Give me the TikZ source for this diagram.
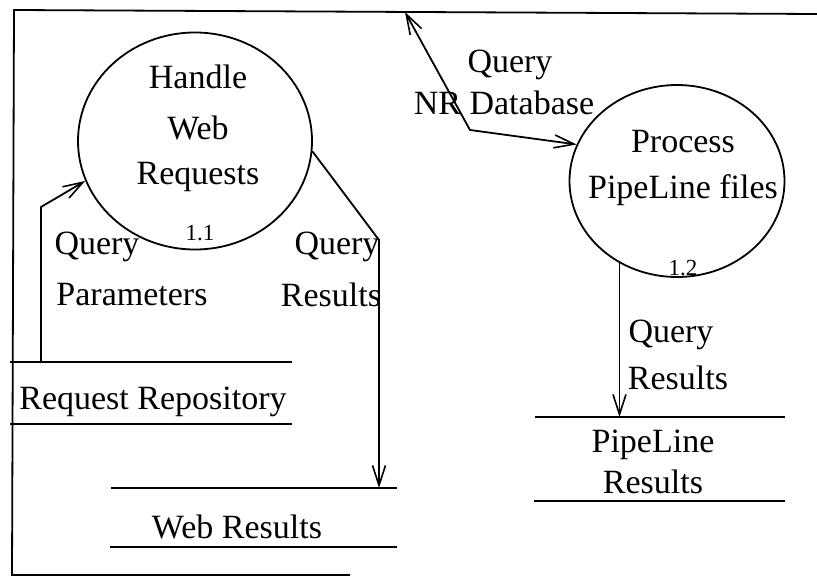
\documentclass[tikz,border=0pt]{standalone}
\usepackage{fontspec}
\setmainfont{Liberation Serif}
\usetikzlibrary{shapes.geometric,arrows.meta}

\begin{document}
\begin{tikzpicture}[x=1pt,y=-1pt,line width=1.8pt,
    txt/.style={font=\fontsize{34}{40}\selectfont,inner sep=0pt},
    num/.style={font=\fontsize{23}{26}\selectfont,inner sep=0pt},
    proc/.style={draw,ellipse,inner sep=0pt},
    barb/.tip={Straight Barb[length=20pt,width=13pt,line width=1.6pt]},
    flow/.style={-barb}]
    \useasboundingbox (0,0) rectangle (817,586);
    % outer boundary
    \coordinate (tr) at (817,14);
    \coordinate (tl) at (14,10);
    \coordinate (bl) at (12,575);
    \coordinate (br) at (350,575);
    \draw (tr) -- (tl) -- (bl) -- (br);
    % processes
    \node[proc,minimum width=234pt,minimum height=217pt] (c11) at (195,141) {};
    \node[txt] (handle) at (198,77) {Handle};
    \node[txt] (web) at (198,128) {Web};
    \node[txt] (requests) at (198,177) {Requests};
    \node[num] (n11) at (200,233) {1.1};
    \node[proc,minimum width=215pt,minimum height=192pt] (c12) at (677,181) {};
    \node[txt] (process) at (683,142) {Process};
    \node[txt] (pipefiles) at (683,190) {PipeLine files};
    \node[num] (n12) at (683,268) {1.2};
    % data stores
    \coordinate (rrtl) at (10,362); \coordinate (rrtr) at (292,362);
    \coordinate (rrbl) at (10,424); \coordinate (rrbr) at (292,424);
    \draw (rrtl) -- (rrtr);
    \draw (rrbl) -- (rrbr);
    \node[txt] (reqrep) at (153,402) {Request Repository};
    \coordinate (wrtl) at (111,488); \coordinate (wrtr) at (397,488);
    \coordinate (wrbl) at (110,547); \coordinate (wrbr) at (397,547);
    \draw (wrtl) -- (wrtr);
    \draw (wrbl) -- (wrbr);
    \node[txt] (webres) at (237,527) {Web Results};
    \coordinate (prtl) at (535,417); \coordinate (prtr) at (785,417);
    \coordinate (prbl) at (534,501); \coordinate (prbr) at (785,501);
    \draw (prtl) -- (prtr);
    \draw (prbl) -- (prbr);
    \node[txt] (pipeline) at (653,445) {PipeLine};
    \node[txt] (piperes) at (653,482) {Results};
    % flows
    \coordinate (qpfoot) at (41,362);
    \coordinate (qpbend) at (41,207);
    \draw[flow] (qpfoot) -- (qpbend) -- (c11.200);
    \node[txt] (qp1) at (97,247) {Query};
    \node[txt] (qp2) at (132,295) {Parameters};
    \coordinate (qrbend) at (379,240);
    \coordinate (qrfoot) at (379,488);
    \draw[flow] (c11.355) -- (qrbend) -- (qrfoot);
    \node[txt] (qr1) at (337,247) {Query};
    \node[txt] (qr2) at (331,295) {Results};
    \coordinate (dbtop) at (405,12);
    \coordinate (dbbend) at (470,130);
    \draw[barb-barb] (dbtop) -- (dbbend) -- (c12.160);
    \node[txt] (db1) at (510,65) {Query};
    \node[txt] (db2) at (504,103) {NR Database};
    \draw[flow] (c12.235) -- (c12.235 |- prtl);
    \node[txt] (pq1) at (671,335) {Query};
    \node[txt] (pq2) at (678,378) {Results};
\end{tikzpicture}
\end{document}
